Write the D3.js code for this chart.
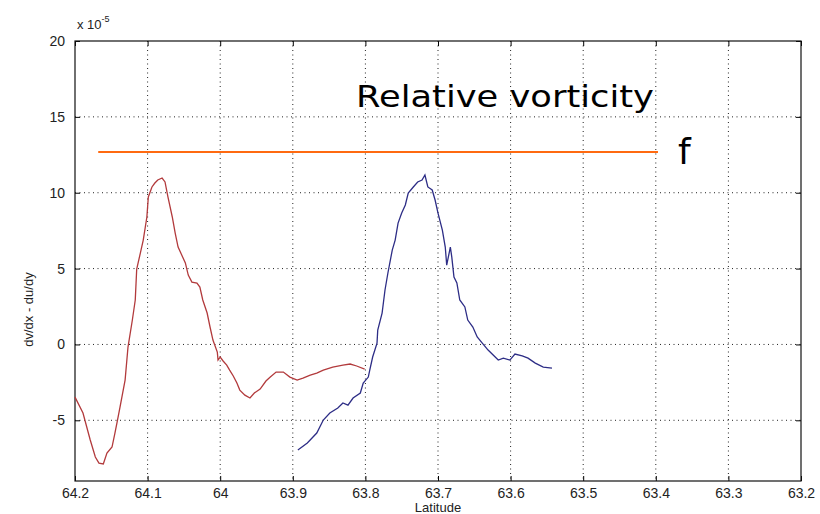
<!DOCTYPE html>
<html>
<head>
<meta charset="utf-8">
<script src="https://cdn.jsdelivr.net/npm/d3@7"></script>
<style>
  html, body { margin: 0; padding: 0; background: #fff; }
  svg { display: block; }
</style>
</head>
<body>
<script>
// Latitude ticks (axis is reversed: 64.2 on the left)
const xTicks = [64.2, 64.1, 64.0, 63.9, 63.8, 63.7, 63.6, 63.5, 63.4, 63.3, 63.2];
const yTicks = [-5, 0, 5, 10, 15, 20];

// Red trace (relative vorticity, first section), values in 1e-5
const redLat = [64.2, 64.189, 64.179, 64.172, 64.167, 64.161, 64.156, 64.149, 64.145, 64.142, 64.138,
  64.131, 64.127, 64.121, 64.117, 64.115, 64.110, 64.106, 64.101, 64.099, 64.094, 64.090, 64.086,
  64.080, 64.076, 64.072, 64.066, 64.062, 64.058, 64.053, 64.048, 64.044, 64.039, 64.032, 64.028,
  64.024, 64.018, 64.014, 64.010, 64.004, 64.003, 64.000, 63.996, 63.991, 63.987, 63.982, 63.977,
  63.973, 63.966, 63.959, 63.953, 63.945, 63.937, 63.931, 63.923, 63.913, 63.904, 63.894, 63.886,
  63.876, 63.867, 63.858, 63.845, 63.831, 63.821, 63.812, 63.801];
const redVal = [-3.47, -4.52, -6.30, -7.42, -7.82, -7.88, -7.16, -6.76, -5.84, -5.12, -4.13,
  -2.35, -0.17, 1.61, 2.93, 4.97, 6.02, 6.88, 8.40, 9.72, 10.38, 10.64, 10.84,
  10.97, 10.71, 9.72, 8.40, 7.34, 6.42, 5.89, 5.37, 4.57, 4.11, 4.05, 3.78,
  2.93, 2.07, 1.15, 0.29, -0.50, -1.03, -0.83, -1.09, -1.36, -1.69, -2.08, -2.54,
  -3.01, -3.34, -3.53, -3.20, -2.94, -2.41, -2.15, -1.82, -1.82, -2.15, -2.35, -2.22,
  -2.02, -1.89, -1.69, -1.49, -1.36, -1.29, -1.42, -1.62];

// Blue trace (second section)
const blueLat = [63.893, 63.880, 63.867, 63.858, 63.849, 63.838, 63.831, 63.824, 63.817, 63.807,
  63.803, 63.796, 63.794, 63.790, 63.784, 63.783, 63.777, 63.773, 63.769, 63.763, 63.759, 63.755,
  63.750, 63.745, 63.741, 63.734, 63.728, 63.722, 63.718, 63.714, 63.708, 63.704, 63.700, 63.694,
  63.690, 63.688, 63.683, 63.681, 63.678, 63.674, 63.670, 63.663, 63.659, 63.652, 63.646, 63.639,
  63.631, 63.624, 63.617, 63.610, 63.601, 63.594, 63.584, 63.576, 63.566, 63.555, 63.543];
const blueVal = [-6.96, -6.50, -5.84, -4.98, -4.52, -4.19, -3.86, -4.00, -3.53, -3.20,
  -2.54, -2.15, -1.69, -0.83, 0.09, 0.95, 2.07, 3.59, 4.71, 6.22, 6.88, 8.00,
  8.66, 9.19, 9.98, 10.38, 10.71, 10.84, 11.17, 10.38, 10.18, 9.52, 8.66, 7.54,
  6.42, 5.23, 6.42, 5.76, 4.44, 4.05, 2.93, 2.47, 1.61, 1.15, 0.49, 0.09,
  -0.37, -0.70, -1.03, -0.90, -1.03, -0.63, -0.76, -0.90, -1.23, -1.49, -1.56];

// Planetary vorticity f (constant line)
const fLat = [64.168, 63.397];
const fVal = [12.68, 12.68];

const width = 820, height = 514;
const M = {top: 41, right: 19, bottom: 33, left: 75};
const innerW = width - M.left - M.right;
const innerH = height - M.top - M.bottom;

const x = d3.scaleLinear().domain([64.2, 63.2]).range([0, innerW]);
const y = d3.scaleLinear().domain([-9, 20]).range([innerH, 0]);

const svg = d3.select("body").append("svg")
  .attr("width", width).attr("height", height)
  .style("font-family", "'Liberation Sans', Arial, sans-serif");

const g = svg.append("g").attr("transform", `translate(${M.left},${M.top})`);

// Grid (MATLAB-style dotted)
g.append("g").selectAll("line").data(xTicks.slice(1, -1)).join("line")
  .attr("x1", d => x(d)).attr("x2", d => x(d)).attr("y1", 0).attr("y2", innerH)
  .attr("stroke", "#222").attr("stroke-width", 1).attr("stroke-dasharray", "1,3.5");
g.append("g").selectAll("line").data(yTicks.filter(d => d < 20)).join("line")
  .attr("x1", 0).attr("x2", innerW).attr("y1", d => y(d)).attr("y2", d => y(d))
  .attr("stroke", "#222").attr("stroke-width", 1).attr("stroke-dasharray", "1,3.5");

// Axes (hyphen minus, as in the original figure)
const fmtX = d => String(+d.toFixed(1));
const fmtY = d => String(d);
g.append("g").attr("transform", `translate(0,${innerH})`)
  .call(d3.axisBottom(x).tickValues(xTicks).tickFormat(fmtX).tickSizeInner(-5).tickSizeOuter(0).tickPadding(7))
  .call(ax => ax.select(".domain").remove())
  .call(ax => ax.selectAll("text").attr("font-size", 14).attr("fill", "#222").attr("font-family", "'Liberation Sans', Arial, sans-serif"));
g.append("g")
  .call(d3.axisTop(x).tickValues(xTicks).tickFormat("").tickSizeInner(-5).tickSizeOuter(0))
  .call(ax => ax.select(".domain").remove());
g.append("g")
  .call(d3.axisLeft(y).tickValues(yTicks).tickFormat(fmtY).tickSizeInner(-5).tickSizeOuter(0).tickPadding(10))
  .call(ax => ax.select(".domain").remove())
  .call(ax => ax.selectAll("text").attr("font-size", 14).attr("fill", "#222").attr("font-family", "'Liberation Sans', Arial, sans-serif"));
g.append("g").attr("transform", `translate(${innerW},0)`)
  .call(d3.axisRight(y).tickValues(yTicks).tickFormat("").tickSizeInner(-5).tickSizeOuter(0))
  .call(ax => ax.select(".domain").remove());

g.append("rect").attr("width", innerW).attr("height", innerH)
  .attr("fill", "none").attr("stroke", "#111").attr("stroke-width", 1.2);

// Curves
const line = d3.line().x(d => x(d[0])).y(d => y(d[1]));
g.append("path").datum(d3.zip(redLat, redVal))
  .attr("d", line).attr("fill", "none").attr("stroke", "#b23a3c").attr("stroke-width", 1.3);
g.append("path").datum(d3.zip(blueLat, blueVal))
  .attr("d", line).attr("fill", "none").attr("stroke", "#2d2d86").attr("stroke-width", 1.3);
g.append("path").datum(d3.zip(fLat, fVal))
  .attr("d", line).attr("fill", "none").attr("stroke", "#ff6a10").attr("stroke-width", 2);

// Exponent label
const ex = svg.append("text").attr("x", 77).attr("y", 29).attr("font-size", 13).attr("fill", "#222");
ex.append("tspan").text("x 10");
ex.append("tspan").attr("dy", -7).attr("font-size", 9).text("-5");

// Axis labels
svg.append("text").attr("x", M.left + innerW / 2).attr("y", 512)
  .attr("text-anchor", "middle").attr("font-size", 13).attr("fill", "#222").text("Latitude");
svg.append("text").attr("transform", `translate(33,${M.top + y(2.3)}) rotate(-90)`)
  .attr("text-anchor", "middle").attr("font-size", 13).attr("fill", "#222").text("dv/dx - du/dy");

// Annotations
svg.append("text").attr("x", 356).attr("y", 107)
  .attr("font-family", "'DejaVu Sans', sans-serif").attr("font-size", 31).attr("fill", "#000")
  .attr("textLength", 298).attr("lengthAdjust", "spacingAndGlyphs")
  .text("Relative vorticity");
svg.append("text").attr("x", 678).attr("y", 164)
  .attr("font-family", "'DejaVu Sans', sans-serif").attr("font-size", 36).attr("fill", "#000")
  .text("f");
</script>
</body>
</html>
